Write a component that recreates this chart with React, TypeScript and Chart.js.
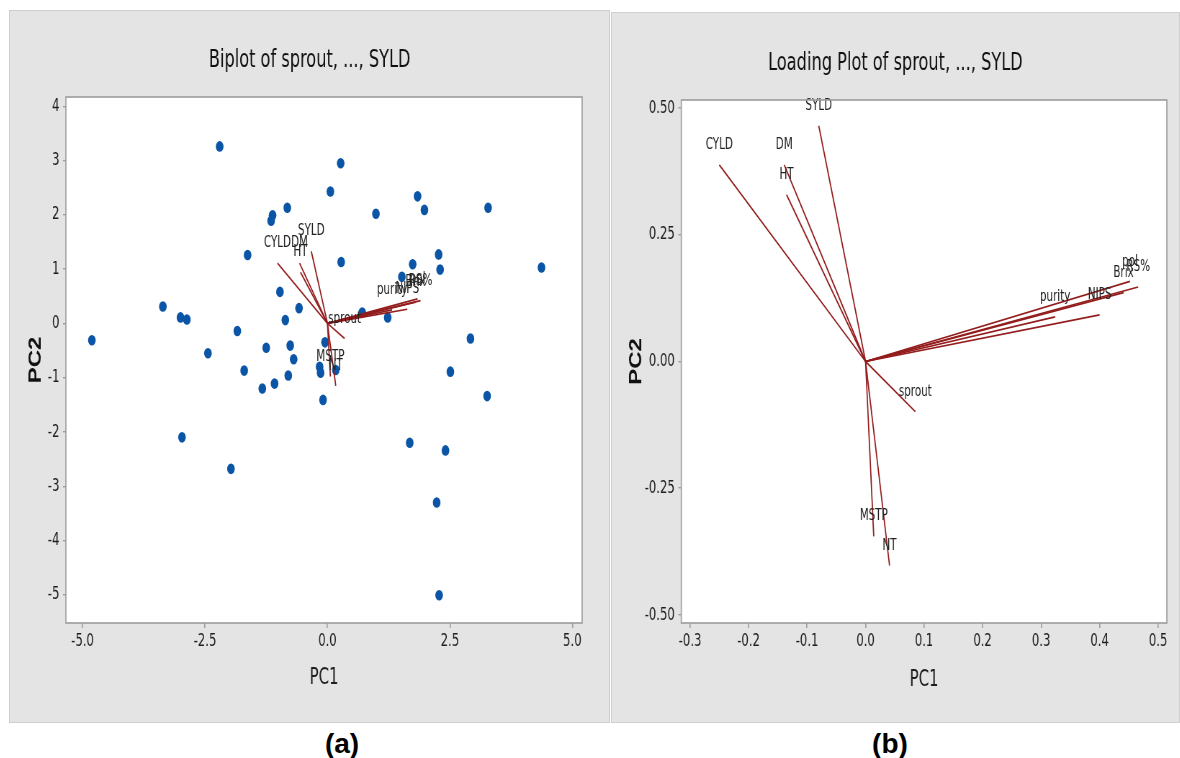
import React, { useEffect, useRef } from 'react';
import { Chart, registerables } from 'chart.js';

Chart.register(...registerables);

// ---------- data ----------
const PC1_SCORES = [-2.20, 0.27, 0.06, -0.82, -1.12, -1.15, 0.99, 1.84, 1.98, 3.28, -1.63, 0.28, 2.27, 2.30, 1.74, 1.52, 4.37, -0.97, -0.58, -0.86, 0.71, 1.23, -3.36, -3.00, -2.87, -4.81, -1.84, -2.44, -1.25, -0.76, -0.69, -0.05, -1.70, -0.80, -1.08, -1.33, -0.16, -0.14, 0.17, -0.09, 2.92, 2.51, 3.26, -2.97, -1.97, 1.68, 2.41, 2.23, 2.28];
const PC2_SCORES = [3.26, 2.95, 2.43, 2.13, 1.99, 1.89, 2.02, 2.34, 2.09, 2.13, 1.26, 1.13, 1.27, 0.99, 1.09, 0.86, 1.03, 0.58, 0.28, 0.06, 0.20, 0.11, 0.31, 0.11, 0.07, -0.31, -0.14, -0.55, -0.45, -0.41, -0.66, -0.35, -0.87, -0.96, -1.11, -1.20, -0.80, -0.91, -0.86, -1.41, -0.28, -0.89, -1.34, -2.10, -2.68, -2.20, -2.34, -3.30, -5.01];

const VARIABLES = ['sprout', 'CYLD', 'DM', 'HT', 'SYLD', 'MSTP', 'NT', 'purity', 'NIPS', 'Brix', 'pol', 'RS%'];
const LOADING_PC1 = [0.085, -0.250, -0.139, -0.135, -0.080, 0.014, 0.041, 0.324, 0.400, 0.441, 0.452, 0.466];
const LOADING_PC2 = [-0.099, 0.388, 0.388, 0.329, 0.465, -0.345, -0.403, 0.088, 0.092, 0.136, 0.158, 0.147];
const BIPLOT_PC1 = [0.35, -1.02, -0.57, -0.55, -0.33, 0.06, 0.17, 1.32, 1.63, 1.80, 1.84, 1.90];
const BIPLOT_PC2 = [-0.28, 1.11, 1.11, 0.94, 1.33, -0.98, -1.15, 0.25, 0.26, 0.39, 0.45, 0.42];

const BIPLOT_X_TICKS = [-5, -2.5, 0, 2.5, 5];
const BIPLOT_X_LABELS = ['-5.0', '-2.5', '0.0', '2.5', '5.0'];
const BIPLOT_Y_TICKS = [-5, -4, -3, -2, -1, 0, 1, 2, 3, 4];
const BIPLOT_Y_LABELS = ['-5', '-4', '-3', '-2', '-1', '0', '1', '2', '3', '4'];
const LOADING_X_TICKS = [-0.3, -0.2, -0.1, 0, 0.1, 0.2, 0.3, 0.4, 0.5];
const LOADING_X_LABELS = ['-0.3', '-0.2', '-0.1', '0.0', '0.1', '0.2', '0.3', '0.4', '0.5'];
const LOADING_Y_TICKS = [-0.5, -0.25, 0, 0.25, 0.5];
const LOADING_Y_LABELS = ['-0.50', '-0.25', '0.00', '0.25', '0.50'];

const BIPLOT_TITLE = 'Biplot of sprout, ..., SYLD';
const LOADING_TITLE = 'Loading Plot of sprout, ..., SYLD';

// ---------- styles ----------
const SX = 0.72; // horizontal condensation of the whole picture
const NARROW = "'Liberation Sans Narrow', 'DejaVu Sans Condensed', 'Liberation Sans', Arial, sans-serif";
const BOLD = "'Liberation Sans', Arial, sans-serif";
const RED = '#931c1c';
const BLUE = '#0a55a5';
const FRAME = '#9c9c9c';
const PANEL_BG = '#e4e4e4';

const framePlugin = {
  id: 'frame',
  beforeDraw(chart: any) {
    const { ctx, chartArea: a } = chart;
    ctx.save();
    ctx.fillStyle = '#ffffff';
    ctx.fillRect(a.left, a.top, a.right - a.left, a.bottom - a.top);
    ctx.restore();
  },
  afterDatasetsDraw(chart: any, _args: any, opts: any) {
    const { ctx, chartArea: a } = chart;
    const xs = chart.scales.x;
    const ys = chart.scales.y;
    ctx.save();
    ctx.font = `16px ${NARROW}`;
    ctx.fillStyle = '#222222';
    ctx.textAlign = 'center';
    ctx.textBaseline = 'middle';
    (opts.names || []).forEach((n: string, i: number) => {
      const px = xs.getPixelForValue(opts.xs[i]);
      const py = ys.getPixelForValue(opts.ys[i]) - 20;
      ctx.fillText(n, px, py);
    });
    ctx.strokeStyle = FRAME;
    ctx.lineWidth = 1.6;
    ctx.strokeRect(a.left, a.top, a.right - a.left, a.bottom - a.top);
    ctx.restore();
  },
};

interface PanelCfg {
  title: string;
  titlePadTop: number;
  titlePadBottom: number;
  canvasW: number;
  canvasH: number;
  yAxisW: number;
  rightPad: number;
  xMin: number; xMax: number; yMin: number; yMax: number;
  xTicks: number[]; xLabels: string[]; yTicks: number[]; yLabels: string[];
  vx: number[]; vy: number[];
  scoresX?: number[]; scoresY?: number[];
  pc1PadBottom: number;
  pc2PadTop: number;
}

function buildConfig(c: PanelCfg): any {
  const datasets: any[] = VARIABLES.map((name, i) => ({
    label: name,
    data: [{ x: 0, y: 0 }, { x: c.vx[i], y: c.vy[i] }],
    showLine: true,
    borderColor: RED,
    borderWidth: 1.7,
    pointRadius: 0,
    pointHoverRadius: 0,
    order: 0,
  }));
  if (c.scoresX && c.scoresY) {
    const sy = c.scoresY;
    datasets.push({
      label: 'scores',
      data: c.scoresX.map((x, i) => ({ x, y: sy[i] })),
      backgroundColor: BLUE,
      borderWidth: 0,
      pointRadius: 5.3,
      pointHoverRadius: 5.3,
      order: 1,
    });
  }
  const tickFont = { family: NARROW, size: 18 };
  return {
    type: 'scatter',
    data: { datasets },
    plugins: [framePlugin],
    options: {
      responsive: false,
      maintainAspectRatio: false,
      animation: false,
      events: [],
      layout: { padding: 0 },
      plugins: {
        legend: { display: false },
        tooltip: { enabled: false },
        title: {
          display: true,
          text: c.title,
          color: '#111111',
          font: { family: NARROW, size: 25, weight: 'normal', lineHeight: 1.2 },
          padding: { top: c.titlePadTop, bottom: c.titlePadBottom },
        },
        frame: { names: VARIABLES, xs: c.vx, ys: c.vy },
      },
      scales: {
        x: {
          type: 'linear',
          position: 'bottom',
          min: c.xMin,
          max: c.xMax,
          afterBuildTicks: (s: any) => { s.ticks = c.xTicks.map((v) => ({ value: v })); },
          afterFit: (s: any) => { s.height = 100; },
          ticks: {
            callback: (_v: any, i: number) => c.xLabels[i],
            font: tickFont,
            color: '#1e1e1e',
            padding: 3,
            maxRotation: 0,
            autoSkip: false,
          },
          grid: { drawOnChartArea: false, drawTicks: true, tickLength: 5, color: FRAME, lineWidth: 1.6 },
          border: { display: false },
          title: {
            display: true,
            text: 'PC1',
            color: '#1e1e1e',
            font: { family: NARROW, size: 23, lineHeight: 1.2 },
            padding: { top: 0, bottom: c.pc1PadBottom },
          },
        },
        y: {
          type: 'linear',
          position: 'left',
          min: c.yMin,
          max: c.yMax,
          afterBuildTicks: (s: any) => { s.ticks = c.yTicks.map((v) => ({ value: v })); },
          afterFit: (s: any) => { s.width = c.yAxisW; },
          ticks: {
            callback: (_v: any, i: number) => c.yLabels[i],
            font: tickFont,
            color: '#1e1e1e',
            padding: 5,
            autoSkip: false,
          },
          grid: { drawOnChartArea: false, drawTicks: true, tickLength: 4, color: FRAME, lineWidth: 1.4 },
          border: { display: false },
          title: {
            display: true,
            text: 'PC2',
            color: '#111111',
            font: { family: BOLD, size: 24, weight: 'bold', lineHeight: 1.2 },
            padding: { top: c.pc2PadTop, bottom: 0 },
          },
        },
        spacer: {
          type: 'linear',
          position: 'right',
          display: true,
          ticks: { display: false },
          grid: { display: false },
          border: { display: false },
          afterFit: (s: any) => { s.width = c.rightPad; },
        },
      },
    },
  };
}

function Panel({ cfg, left, top, width, height }: { cfg: PanelCfg; left: number; top: number; width: number; height: number }) {
  const ref = useRef<HTMLCanvasElement | null>(null);
  useEffect(() => {
    if (!ref.current) return;
    const chart = new Chart(ref.current, buildConfig(cfg));
    return () => chart.destroy();
  }, []);
  return (
    <div
      style={{
        position: 'absolute',
        left,
        top,
        width,
        height,
        background: PANEL_BG,
        boxShadow: 'inset 0 0 0 1px #cfcfcf',
        overflow: 'hidden',
      }}
    >
      <canvas
        ref={ref}
        width={cfg.canvasW}
        height={cfg.canvasH}
        style={{
          position: 'absolute',
          left: 0,
          top: 0,
          width: cfg.canvasW,
          height: cfg.canvasH,
          transform: `scaleX(${SX})`,
          transformOrigin: '0 0',
        }}
      />
    </div>
  );
}

const biplotCfg: PanelCfg = {
  title: BIPLOT_TITLE,
  titlePadTop: 35,
  titlePadBottom: 22,
  canvasW: 835,
  canvasH: 713,
  yAxisW: 79,
  rightPad: 39,
  xMin: -5.34, xMax: 5.2, yMin: -5.52, yMax: 4.17,
  xTicks: BIPLOT_X_TICKS, xLabels: BIPLOT_X_LABELS,
  yTicks: BIPLOT_Y_TICKS, yLabels: BIPLOT_Y_LABELS,
  vx: BIPLOT_PC1, vy: BIPLOT_PC2,
  scoresX: PC1_SCORES, scoresY: PC2_SCORES,
  pc1PadBottom: 31,
  pc2PadTop: 23,
};

const loadingCfg: PanelCfg = {
  title: LOADING_TITLE,
  titlePadTop: 36,
  titlePadBottom: 22,
  canvasW: 790,
  canvasH: 711,
  yAxisW: 97.6,
  rightPad: 18,
  xMin: -0.315, xMax: 0.515, yMin: -0.516, yMax: 0.516,
  xTicks: LOADING_X_TICKS, xLabels: LOADING_X_LABELS,
  yTicks: LOADING_Y_TICKS, yLabels: LOADING_Y_LABELS,
  vx: LOADING_PC1, vy: LOADING_PC2,
  pc1PadBottom: 29.2,
  pc2PadTop: 21.3,
};

export default function App() {
  const labelStyle: React.CSSProperties = {
    position: 'absolute',
    width: 100,
    textAlign: 'center',
    font: `bold 28px ${BOLD}`,
    lineHeight: '28px',
    color: '#000',
    top: 730,
  };
  return (
    <div style={{ position: 'absolute', left: 0, top: 0, width: 1180, height: 758, background: '#fff', overflow: 'hidden' }}>
      <Panel cfg={biplotCfg} left={9} top={10} width={601} height={713} />
      <Panel cfg={loadingCfg} left={611} top={12} width={569} height={711} />
      <div style={{ ...labelStyle, left: 342 - 50 }}>(a)</div>
      <div style={{ ...labelStyle, left: 890 - 50 }}>(b)</div>
    </div>
  );
}
